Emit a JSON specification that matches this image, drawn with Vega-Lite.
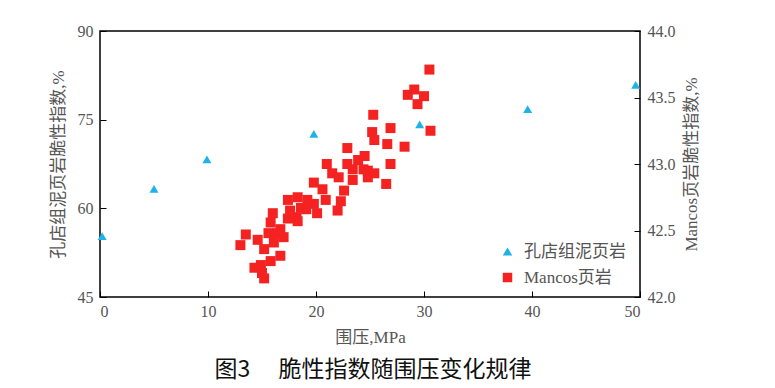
{
  "$schema": "https://vega.github.io/schema/vega-lite/v6.json",
  "width": 540,
  "height": 266,
  "autosize": {"type": "none"},
  "padding": {"left": 100, "top": 31, "right": 135, "bottom": 91},
  "config": {
    "view": {"stroke": "#000", "strokeWidth": 1.5},
    "font": "Liberation Serif, Noto Sans CJK SC",
    "axis": {
      "grid": false,
      "domain": false,
      "tickColor": "#000",
      "tickWidth": 1,
      "tickSize": -6,
      "labelFont": "Liberation Serif",
      "labelFontSize": 16,
      "labelColor": "#555",
      "titleFont": "Liberation Serif, Noto Sans CJK SC",
      "titleFontSize": 17,
      "titleFontWeight": "normal",
      "titleColor": "#555"
    },
    "legend": {
      "labelFont": "Liberation Serif, Noto Sans CJK SC",
      "labelFontSize": 17,
      "labelColor": "#555"
    }
  },
  "title": {
    "text": "图3　 脆性指数随围压变化规律",
    "orient": "bottom",
    "anchor": "middle",
    "font": "Noto Sans CJK SC",
    "fontSize": 23,
    "fontWeight": "normal",
    "color": "#111",
    "offset": 14,
    "dx": 3
  },
  "data": {
    "values": [
      {"p": 0.2, "bi": 55.3, "series": "孔店组泥页岩"},
      {"p": 5.0, "bi": 63.3, "series": "孔店组泥页岩"},
      {"p": 9.9, "bi": 68.3, "series": "孔店组泥页岩"},
      {"p": 19.8, "bi": 72.6, "series": "孔店组泥页岩"},
      {"p": 29.6, "bi": 74.2, "series": "孔店组泥页岩"},
      {"p": 39.6, "bi": 76.8, "series": "孔店组泥页岩"},
      {"p": 49.6, "bi": 80.9, "series": "孔店组泥页岩"},
      {"p": 30.5, "bi": 43.71, "series": "Mancos页岩"},
      {"p": 29.1, "bi": 43.56, "series": "Mancos页岩"},
      {"p": 28.5, "bi": 43.52, "series": "Mancos页岩"},
      {"p": 30.0, "bi": 43.51, "series": "Mancos页岩"},
      {"p": 29.4, "bi": 43.45, "series": "Mancos页岩"},
      {"p": 30.6, "bi": 43.25, "series": "Mancos页岩"},
      {"p": 25.3, "bi": 43.37, "series": "Mancos页岩"},
      {"p": 26.9, "bi": 43.27, "series": "Mancos页岩"},
      {"p": 25.2, "bi": 43.24, "series": "Mancos页岩"},
      {"p": 25.4, "bi": 43.18, "series": "Mancos页岩"},
      {"p": 26.6, "bi": 43.15, "series": "Mancos页岩"},
      {"p": 28.2, "bi": 43.13, "series": "Mancos页岩"},
      {"p": 24.5, "bi": 43.06, "series": "Mancos页岩"},
      {"p": 26.9, "bi": 43.0, "series": "Mancos页岩"},
      {"p": 24.8, "bi": 42.95, "series": "Mancos页岩"},
      {"p": 25.4, "bi": 42.93, "series": "Mancos页岩"},
      {"p": 24.8, "bi": 42.9, "series": "Mancos页岩"},
      {"p": 26.5, "bi": 42.85, "series": "Mancos页岩"},
      {"p": 22.9, "bi": 43.12, "series": "Mancos页岩"},
      {"p": 23.9, "bi": 43.03, "series": "Mancos页岩"},
      {"p": 22.9, "bi": 43.0, "series": "Mancos页岩"},
      {"p": 23.4, "bi": 42.96, "series": "Mancos页岩"},
      {"p": 24.4, "bi": 42.96, "series": "Mancos页岩"},
      {"p": 23.4, "bi": 42.88, "series": "Mancos页岩"},
      {"p": 21.0, "bi": 43.0, "series": "Mancos页岩"},
      {"p": 21.5, "bi": 42.93, "series": "Mancos页岩"},
      {"p": 22.1, "bi": 42.9, "series": "Mancos页岩"},
      {"p": 19.8, "bi": 42.86, "series": "Mancos页岩"},
      {"p": 20.6, "bi": 42.81, "series": "Mancos页岩"},
      {"p": 22.6, "bi": 42.8, "series": "Mancos页岩"},
      {"p": 20.9, "bi": 42.73, "series": "Mancos页岩"},
      {"p": 22.3, "bi": 42.72, "series": "Mancos页岩"},
      {"p": 22.0, "bi": 42.65, "series": "Mancos页岩"},
      {"p": 17.4, "bi": 42.73, "series": "Mancos页岩"},
      {"p": 18.3, "bi": 42.75, "series": "Mancos页岩"},
      {"p": 19.2, "bi": 42.73, "series": "Mancos页岩"},
      {"p": 19.8, "bi": 42.7, "series": "Mancos页岩"},
      {"p": 17.6, "bi": 42.65, "series": "Mancos页岩"},
      {"p": 18.6, "bi": 42.67, "series": "Mancos页岩"},
      {"p": 20.1, "bi": 42.63, "series": "Mancos页岩"},
      {"p": 17.4, "bi": 42.59, "series": "Mancos页岩"},
      {"p": 18.2, "bi": 42.6, "series": "Mancos页岩"},
      {"p": 19.1, "bi": 42.66, "series": "Mancos页岩"},
      {"p": 18.3, "bi": 42.57, "series": "Mancos页岩"},
      {"p": 16.0, "bi": 42.63, "series": "Mancos页岩"},
      {"p": 15.8, "bi": 42.56, "series": "Mancos页岩"},
      {"p": 15.6, "bi": 42.48, "series": "Mancos页岩"},
      {"p": 16.4, "bi": 42.48, "series": "Mancos页岩"},
      {"p": 17.0, "bi": 42.45, "series": "Mancos页岩"},
      {"p": 16.1, "bi": 42.41, "series": "Mancos页岩"},
      {"p": 16.7, "bi": 42.51, "series": "Mancos页岩"},
      {"p": 13.5, "bi": 42.47, "series": "Mancos页岩"},
      {"p": 13.0, "bi": 42.39, "series": "Mancos页岩"},
      {"p": 14.6, "bi": 42.43, "series": "Mancos页岩"},
      {"p": 15.2, "bi": 42.36, "series": "Mancos页岩"},
      {"p": 16.7, "bi": 42.31, "series": "Mancos页岩"},
      {"p": 15.8, "bi": 42.27, "series": "Mancos页岩"},
      {"p": 14.9, "bi": 42.24, "series": "Mancos页岩"},
      {"p": 14.3, "bi": 42.22, "series": "Mancos页岩"},
      {"p": 15.0, "bi": 42.18, "series": "Mancos页岩"},
      {"p": 15.2, "bi": 42.14, "series": "Mancos页岩"}
    ]
  },
  "encoding": {
    "x": {
      "field": "p",
      "type": "quantitative",
      "scale": {"domain": [0, 50], "nice": false},
      "axis": {"values": [0, 10, 20, 30, 40, 50], "title": "围压,MPa", "labelPadding": 12, "titlePadding": 10}
    },
    "color": {
      "field": "series",
      "type": "nominal",
      "scale": {"domain": ["孔店组泥页岩", "Mancos页岩"], "range": ["#1fb2e6", "#f52222"]},
      "legend": {
        "title": null,
        "orient": "none",
        "legendX": 399,
        "legendY": 212,
        "padding": 0,
        "rowPadding": 8,
        "symbolSize": 90,
        "labelOffset": 8,
        "symbolStrokeWidth": 0,
        "symbolOpacity": 1
      }
    },
    "shape": {
      "field": "series",
      "type": "nominal",
      "scale": {"domain": ["孔店组泥页岩", "Mancos页岩"], "range": ["triangle-up", "square"]},
      "legend": null
    }
  },
  "layer": [
    {
      "transform": [{"filter": "datum.series === '孔店组泥页岩'"}],
      "mark": {"type": "point", "filled": true, "size": 80, "opacity": 1},
      "encoding": {
        "y": {
          "field": "bi",
          "type": "quantitative",
          "scale": {"domain": [45, 90], "nice": false, "zero": false},
          "axis": {"orient": "left", "values": [45, 60, 75, 90], "title": "孔店组泥页岩脆性指数,%", "labelPadding": 13, "titlePadding": 10}
        }
      }
    },
    {
      "transform": [{"filter": "datum.series === 'Mancos页岩'"}],
      "mark": {"type": "point", "filled": true, "size": 100, "opacity": 1},
      "encoding": {
        "y": {
          "field": "bi",
          "type": "quantitative",
          "scale": {"domain": [42, 44], "nice": false, "zero": false},
          "axis": {"orient": "right", "values": [42, 42.5, 43, 43.5, 44], "format": ".1f", "title": "Mancos页岩脆性指数,%", "titleAngle": 270, "labelPadding": 13, "titlePadding": 25}
        }
      }
    }
  ],
  "resolve": {"scale": {"y": "independent"}}
}
